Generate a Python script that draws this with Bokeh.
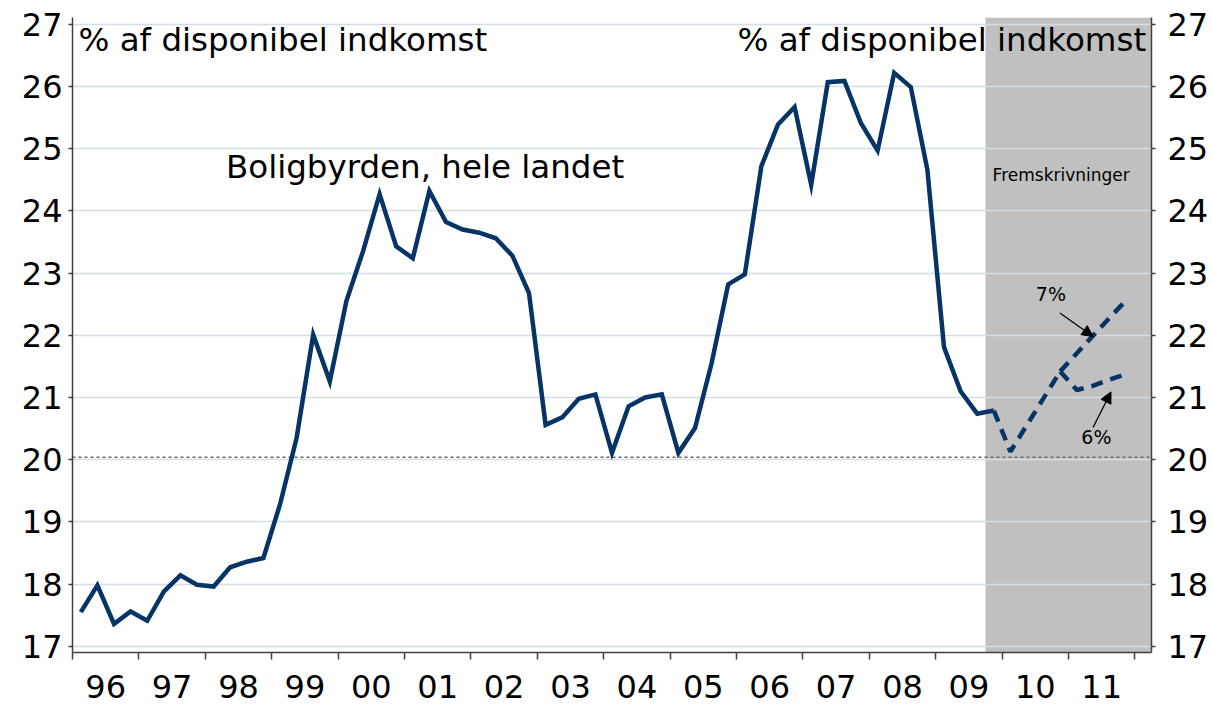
from bokeh.plotting import figure
from bokeh.models import (LinearAxis, FixedTicker, BoxAnnotation, Span, Label, Arrow,
                          NormalHead, Range1d, Grid)
from bokeh.embed import file_html
from bokeh.resources import INLINE

# ---------------- data ----------------
start_year = 1996
years = list(range(1996, 2012))
year_labels = [f"{y % 100:02d}" for y in years]
y_ticks = list(range(17, 28))

# Boligbyrden, hele landet (quarterly, 1996Q1 - 2009Q4), % af disponibel indkomst
burden = [17.55, 17.98, 17.36, 17.56, 17.41, 17.88, 18.14, 17.99, 17.96, 18.27, 18.36, 18.42,
          19.28, 20.35, 22.01, 21.26, 22.55, 23.35, 24.27, 23.43, 23.24, 24.32, 23.82, 23.70,
          23.65, 23.56, 23.28, 22.68, 20.56, 20.68, 20.98, 21.05, 20.11, 20.86, 21.00, 21.05,
          20.11, 20.51, 21.55, 22.82, 22.98, 24.72, 25.39, 25.67, 24.42, 26.07, 26.09, 25.41,
          24.97, 26.22, 25.99, 24.66, 21.81, 21.10, 20.74, 20.79]

# Projections (2009Q4 - 2011Q4)
proj_common = [20.79, 20.13, 20.56, 20.99, 21.42]   # 2009Q4 - 2010Q4
proj_7 = [21.42, 21.71, 22.00, 22.29, 22.57]        # 2010Q4 - 2011Q4, 7%
proj_6 = [21.42, 21.12, 21.19, 21.29, 21.38]        # 2010Q4 - 2011Q4, 6%
reference_level = 20.04
projection_start = 2009.75


def qx(i):
    return start_year + (i + 0.5) / 4


x_hist = [qx(i) for i in range(len(burden))]
n0 = len(burden) - 1
x_common = [qx(n0 + k) for k in range(len(proj_common))]
n1 = n0 + len(proj_common) - 1
x_branch = [qx(n1 + k) for k in range(len(proj_7))]

# ---------------- figure ----------------
NAVY = "#063466"
FONT = "DejaVu Sans"
AXC = "#404040"

W, H = 1212, 704
p = figure(width=W, height=H, x_range=Range1d(1996, 2012.25), y_range=Range1d(16.9, 27.11),
           output_backend="svg", toolbar_location=None, x_axis_type=None, y_axis_type=None,
           min_border_left=72, min_border_right=W - 1151, min_border_top=17,
           min_border_bottom=H - 652)
p.outline_line_color = None
p.background_fill_color = "white"
p.border_fill_color = "white"

# shaded projection area (below grid)
p.add_layout(BoxAnnotation(left=projection_start, fill_color="#c0c0c0", fill_alpha=1.0,
                           line_color=None, level="image"))

# bottom axis: minor ticks at year boundaries, labels centred in each year
xaxis = LinearAxis(ticker=FixedTicker(ticks=[y + 0.5 for y in years],
                                      minor_ticks=list(range(1996, 2013))),
                   major_label_overrides={y + 0.5: lab for y, lab in zip(years, year_labels)})
xaxis.major_tick_out = 0
xaxis.major_tick_in = 0
xaxis.minor_tick_out = 7
xaxis.minor_tick_in = 0
xaxis.minor_tick_line_color = AXC
xaxis.minor_tick_line_width = 1.5
xaxis.axis_line_color = AXC
xaxis.axis_line_width = 1.5
xaxis.major_label_text_font = FONT
xaxis.major_label_text_font_size = "32px"
xaxis.major_label_text_color = "black"
xaxis.major_label_standoff = 15
p.add_layout(xaxis, "below")

for side, standoff in (("left", 6), ("right", 12)):
    ax = LinearAxis(ticker=FixedTicker(ticks=y_ticks))
    ax.major_tick_out = 4
    ax.major_tick_in = 0
    ax.minor_tick_out = 0
    ax.minor_tick_in = 0
    ax.major_tick_line_color = AXC
    ax.major_tick_line_width = 1.5
    ax.axis_line_color = AXC
    ax.axis_line_width = 1.5
    ax.major_label_text_font = FONT
    ax.major_label_text_font_size = "32px"
    ax.major_label_text_color = "black"
    ax.major_label_standoff = standoff
    p.add_layout(ax, side)

p.add_layout(Grid(dimension=1, ticker=FixedTicker(ticks=y_ticks),
                  grid_line_color="#d3dde4", grid_line_width=1.5))

p.add_layout(Span(location=reference_level, dimension="width", line_color="#6a6a6a",
                  line_dash="3 3", line_width=1.5, level="underlay"))

# lines
p.line(x_hist, burden, line_color=NAVY, line_width=4.5, line_join="miter")
p.line(x_common, proj_common, line_color=NAVY, line_width=4.5, line_dash="12 8")
p.line(x_branch, proj_7, line_color=NAVY, line_width=4.5, line_dash="12 8")
p.line(x_branch, proj_6, line_color=NAVY, line_width=4.5, line_dash="12 8")

# texts
def add_label(x, y, text, size, align="left"):
    p.add_layout(Label(x=x, y=y, text=text, text_font=FONT, text_font_size=size,
                       text_color="black", text_align=align, text_baseline="alphabetic"))


add_label(1996.09, 26.75, "% af disponibel indkomst", "32.5px", "left")
add_label(2012.17, 26.75, "% af disponibel indkomst", "32.5px", "right")
add_label(2001.31, 24.71, "Boligbyrden, hele landet", "32.5px", "center")
add_label(2010.89, 24.57, "Fremskrivninger", "17px", "center")
add_label(2010.735, 22.66, "7%", "19px", "center")
add_label(2011.42, 20.36, "6%", "19px", "center")

p.add_layout(Arrow(end=NormalHead(size=11, fill_color="black", line_color="black"),
                   x_start=2010.87, y_start=22.36, x_end=2011.37, y_end=21.98,
                   line_color="black", line_width=1.2))
p.add_layout(Arrow(end=NormalHead(size=11, fill_color="black", line_color="black"),
                   x_start=2011.37, y_start=20.52, x_end=2011.64, y_end=21.09,
                   line_color="black", line_width=1.2))

open("out.html", "w").write(file_html(p, INLINE))
